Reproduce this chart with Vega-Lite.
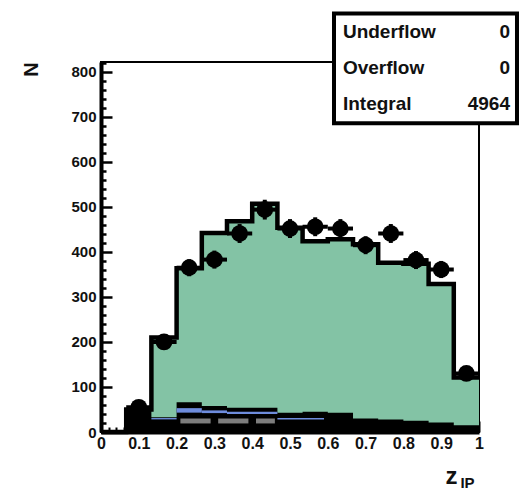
{
  "$schema": "https://vega.github.io/schema/vega-lite/v6.json",
  "width": 378,
  "height": 370,
  "autosize": {"type": "none"},
  "padding": {"left": 101, "top": 62, "right": 40, "bottom": 57},
  "background": "white",
  "config": {
    "view": {"stroke": "black", "strokeWidth": 2},
    "font": "Liberation Sans",
    "axis": {"grid": false, "zindex": 1, "labelFont": "Liberation Sans", "titleFont": "Liberation Sans", "labelFontWeight": "bold", "titleFontWeight": "bold", "labelColor": "#111", "titleColor": "#111", "domainColor": "black", "tickColor": "black"}
  },
  "datasets": {
    "total": [
      {"x": 0, "n": 0}, {"x": 0.0667, "n": 50}, {"x": 0.1333, "n": 210}, {"x": 0.2, "n": 364},
      {"x": 0.2667, "n": 442}, {"x": 0.3333, "n": 468}, {"x": 0.4, "n": 507}, {"x": 0.4667, "n": 454},
      {"x": 0.5333, "n": 424}, {"x": 0.6, "n": 428}, {"x": 0.6667, "n": 417}, {"x": 0.7333, "n": 376},
      {"x": 0.8, "n": 374}, {"x": 0.8667, "n": 329}, {"x": 0.9333, "n": 121}, {"x": 1, "n": 121}, {"x": 1, "n": 0}
    ],
    "background": [
      {"x": 0, "n": 0}, {"x": 0.0667, "n": 50}, {"x": 0.1333, "n": 33}, {"x": 0.2, "n": 66},
      {"x": 0.2667, "n": 58}, {"x": 0.3333, "n": 54}, {"x": 0.4, "n": 54}, {"x": 0.4667, "n": 43},
      {"x": 0.5333, "n": 45}, {"x": 0.6, "n": 43}, {"x": 0.6667, "n": 30}, {"x": 0.7333, "n": 28},
      {"x": 0.8, "n": 25}, {"x": 0.8667, "n": 21}, {"x": 0.9333, "n": 15}, {"x": 1, "n": 15}, {"x": 1, "n": 0}
    ],
    "blue": [
      {"x0": 0.1333, "x1": 0.2, "y0": 28, "y1": 31},
      {"x0": 0.2, "x1": 0.2667, "y0": 43, "y1": 53},
      {"x0": 0.2667, "x1": 0.3333, "y0": 42, "y1": 48},
      {"x0": 0.3333, "x1": 0.4667, "y0": 40, "y1": 45},
      {"x0": 0.4667, "x1": 0.59, "y0": 28, "y1": 31}
    ],
    "gray": [
      {"x0": 0.21, "x1": 0.29, "y0": 19, "y1": 30},
      {"x0": 0.31, "x1": 0.39, "y0": 19, "y1": 30},
      {"x0": 0.41, "x1": 0.46, "y0": 19, "y1": 30}
    ],
    "observed": [
      {"x0": 0.0667, "x1": 0.1333, "c": 0.1, "n": 55, "lo": 48, "hi": 62},
      {"x0": 0.1333, "x1": 0.2, "c": 0.1667, "n": 200, "lo": 186, "hi": 214},
      {"x0": 0.2, "x1": 0.2667, "c": 0.2333, "n": 365, "lo": 346, "hi": 384},
      {"x0": 0.2667, "x1": 0.3333, "c": 0.3, "n": 383, "lo": 363, "hi": 403},
      {"x0": 0.3333, "x1": 0.4, "c": 0.3667, "n": 441, "lo": 420, "hi": 462},
      {"x0": 0.4, "x1": 0.4667, "c": 0.4333, "n": 494, "lo": 472, "hi": 516},
      {"x0": 0.4667, "x1": 0.5333, "c": 0.5, "n": 452, "lo": 431, "hi": 473},
      {"x0": 0.5333, "x1": 0.6, "c": 0.5667, "n": 456, "lo": 435, "hi": 477},
      {"x0": 0.6, "x1": 0.6667, "c": 0.6333, "n": 452, "lo": 431, "hi": 473},
      {"x0": 0.6667, "x1": 0.7333, "c": 0.7, "n": 415, "lo": 395, "hi": 435},
      {"x0": 0.7333, "x1": 0.8, "c": 0.7667, "n": 441, "lo": 420, "hi": 462},
      {"x0": 0.8, "x1": 0.8667, "c": 0.8333, "n": 382, "lo": 362, "hi": 402},
      {"x0": 0.8667, "x1": 0.9333, "c": 0.9, "n": 361, "lo": 342, "hi": 380},
      {"x0": 0.9333, "x1": 1, "c": 0.9667, "n": 130, "lo": 119, "hi": 141}
    ],
    "statbox": [{"label": "stats"}]
  },
  "resolve": {"axis": {"x": "independent", "y": "independent"}},
  "layer": [
    {
      "data": {"name": "total"},
      "mark": {"type": "area", "interpolate": "step-after", "color": "#83c3a5", "opacity": 1, "line": {"color": "black", "strokeWidth": 4.5}},
      "encoding": {
        "x": {"field": "x", "type": "quantitative", "scale": {"domain": [0, 1], "nice": false, "zero": false},
          "axis": {"orient": "bottom", "values": [0, 0.1, 0.2, 0.3, 0.4, 0.5, 0.6, 0.7, 0.8, 0.9, 1], "format": "~g", "ticks": false, "domainWidth": 4, "labelFontSize": 16, "labelPadding": 3, "labelFlush": false,
            "title": "z", "titleFontSize": 24, "titleX": 350, "titleY": 51, "titleAlign": "center", "titleBaseline": "alphabetic"}},
        "y": {"field": "n", "type": "quantitative", "scale": {"domain": [0, 822], "nice": false},
          "axis": {"orient": "left", "values": [0, 100, 200, 300, 400, 500, 600, 700, 800], "ticks": false, "domainWidth": 4, "labelFontSize": 15, "labelPadding": 5, "labelFlush": false,
            "title": "N", "titleFontSize": 20, "titleX": -70, "titleY": 7, "titleAngle": 270, "titleAlign": "center", "titleBaseline": "middle"}}
      }
    },
    {
      "data": {"name": "background"},
      "mark": {"type": "area", "interpolate": "step-after", "color": "black", "opacity": 1},
      "encoding": {
        "x": {"field": "x", "type": "quantitative", "axis": {"orient": "bottom", "values": [0, 0.1, 0.2, 0.3, 0.4, 0.5, 0.6, 0.7, 0.8, 0.9, 1], "labels": false, "domain": false, "tickSize": -11, "tickWidth": 2, "title": null}},
        "y": {"field": "n", "type": "quantitative", "axis": {"orient": "left", "values": [0, 100, 200, 300, 400, 500, 600, 700, 800], "labels": false, "domain": false, "tickSize": -11, "tickWidth": 2.5, "title": null}}
      }
    },
    {
      "data": {"name": "blue"},
      "mark": {"type": "rect", "color": "#6e8cdc", "opacity": 1},
      "encoding": {
        "x": {"field": "x0", "type": "quantitative", "axis": {"orient": "bottom", "values": [0.02, 0.04, 0.06, 0.08, 0.12, 0.14, 0.16, 0.18, 0.22, 0.24, 0.26, 0.28, 0.32, 0.34, 0.36, 0.38, 0.42, 0.44, 0.46, 0.48, 0.52, 0.54, 0.56, 0.58, 0.62, 0.64, 0.66, 0.68, 0.72, 0.74, 0.76, 0.78, 0.82, 0.84, 0.86, 0.88, 0.92, 0.94, 0.96, 0.98], "labels": false, "domain": false, "tickSize": -5, "tickWidth": 2, "title": null}},
        "x2": {"field": "x1"},
        "y": {"field": "y0", "type": "quantitative", "axis": {"orient": "left", "values": [20, 40, 60, 80, 120, 140, 160, 180, 220, 240, 260, 280, 320, 340, 360, 380, 420, 440, 460, 480, 520, 540, 560, 580, 620, 640, 660, 680, 720, 740, 760, 780, 820], "labels": false, "domain": false, "tickSize": -5, "tickWidth": 2.5, "title": null}},
        "y2": {"field": "y1"}
      }
    },
    {
      "data": {"name": "gray"},
      "mark": {"type": "rect", "color": "#7d7d7d", "opacity": 1},
      "encoding": {
        "x": {"field": "x0", "type": "quantitative", "axis": {"orient": "bottom", "labels": false, "domain": false, "ticks": false, "title": "IP", "titleFontSize": 15, "titleX": 366, "titleY": 55, "titleAlign": "center", "titleBaseline": "alphabetic"}},
        "x2": {"field": "x1"},
        "y": {"field": "y0", "type": "quantitative", "axis": null},
        "y2": {"field": "y1"}
      }
    },
    {
      "data": {"name": "observed"},
      "mark": {"type": "rule", "color": "black", "strokeWidth": 4},
      "encoding": {
        "x": {"field": "c", "type": "quantitative", "axis": null},
        "y": {"field": "lo", "type": "quantitative", "axis": null},
        "y2": {"field": "hi"}
      }
    },
    {
      "data": {"name": "observed"},
      "mark": {"type": "rule", "color": "black", "strokeWidth": 4},
      "encoding": {
        "x": {"field": "x0", "type": "quantitative", "axis": null},
        "x2": {"field": "x1"},
        "y": {"field": "n", "type": "quantitative", "axis": null}
      }
    },
    {
      "data": {"name": "observed"},
      "mark": {"type": "point", "shape": "circle", "filled": true, "color": "black", "opacity": 1, "size": 280},
      "encoding": {
        "x": {"field": "c", "type": "quantitative", "axis": null},
        "y": {"field": "n", "type": "quantitative", "axis": null}
      }
    },
    {
      "data": {"name": "statbox"},
      "mark": {"type": "rect", "fill": "white", "stroke": "black", "strokeWidth": 4, "opacity": 1},
      "encoding": {
        "x": {"datum": 0.6164, "type": "quantitative", "axis": null},
        "x2": {"datum": 1.1005},
        "y": {"datum": 686, "type": "quantitative", "axis": null},
        "y2": {"datum": 930}
      }
    },
    {
      "data": {"name": "statbox"},
      "mark": {"type": "text", "text": ["Underflow", "Overflow", "Integral"], "align": "left", "baseline": "alphabetic", "lineHeight": 36, "fontSize": 19, "fontWeight": "bold", "font": "Liberation Sans", "color": "#111"},
      "encoding": {
        "x": {"datum": 0.64, "type": "quantitative", "axis": null},
        "y": {"datum": 875, "type": "quantitative", "axis": null}
      }
    },
    {
      "data": {"name": "statbox"},
      "mark": {"type": "text", "text": ["0", "0", "4964"], "align": "right", "baseline": "alphabetic", "lineHeight": 36, "fontSize": 19, "fontWeight": "bold", "font": "Liberation Sans", "color": "#111"},
      "encoding": {
        "x": {"datum": 1.082, "type": "quantitative", "axis": null},
        "y": {"datum": 875, "type": "quantitative", "axis": null}
      }
    }
  ]
}
